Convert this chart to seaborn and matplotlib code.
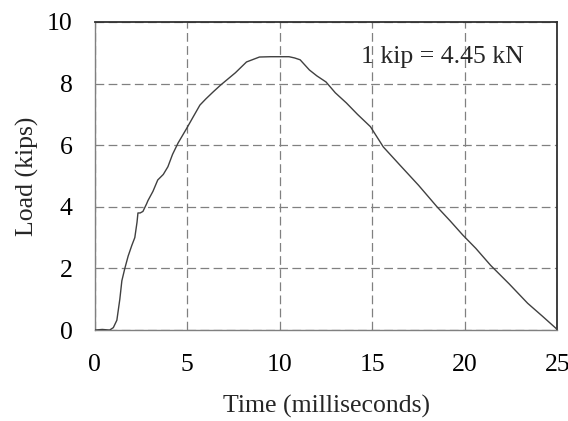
import matplotlib
matplotlib.use("Agg")
import matplotlib.pyplot as plt
import seaborn as sns
import pandas as pd
from matplotlib.ticker import MultipleLocator

time_ms = [0.0, 0.4, 0.8, 1.0, 1.19, 1.35, 1.46, 1.62, 1.8, 2.0, 2.16, 2.28, 2.33, 2.45, 2.6, 2.8,
           2.87, 3.14, 3.4, 3.7, 3.95, 4.2, 4.5, 4.98, 5.3, 5.68, 6.0, 6.4, 6.8, 7.14, 7.6,
           8.2, 8.9, 9.5, 10.0, 10.5, 10.8, 11.1, 11.6, 12.0, 12.5, 13.0, 13.6, 14.2,
           14.9, 15.6, 16.5, 17.5, 18.5, 19.2, 19.9, 20.6, 21.4, 22.4, 23.4, 24.2, 25.0]
load_kips = [0.0, 0.02, 0.0, 0.08, 0.32, 1.0, 1.6, 2.0, 2.4, 2.75, 3.0, 3.5, 3.8, 3.8, 3.85, 4.1,
             4.2, 4.5, 4.87, 5.05, 5.3, 5.7, 6.07, 6.56, 6.9, 7.3, 7.5, 7.73, 7.95, 8.12, 8.35,
             8.7, 8.86, 8.87, 8.87, 8.87, 8.83, 8.77, 8.44, 8.25, 8.05, 7.7, 7.37, 7.0,
             6.6, 5.94, 5.35, 4.7, 4.0, 3.55, 3.08, 2.65, 2.1, 1.5, 0.87, 0.45, 0.02]

df = pd.DataFrame({"Time (milliseconds)": time_ms, "Load (kips)": load_kips})

sns.set_style("white")
plt.rcParams['font.family'] = ['Liberation Serif', 'DejaVu Serif']

fig = plt.figure(figsize=(5.68, 4.21), dpi=100)
ax = fig.add_axes([0.167, 0.216, 0.814, 0.732])

sns.lineplot(data=df, x="Time (milliseconds)", y="Load (kips)", ax=ax,
             color="#404040", linewidth=1.0, zorder=3)

ax.set_xlim(0, 25)
ax.set_ylim(0, 10)
ax.xaxis.set_major_locator(MultipleLocator(5))
ax.yaxis.set_major_locator(MultipleLocator(2))
ax.xaxis.set_minor_locator(MultipleLocator(2.5))
ax.yaxis.set_minor_locator(MultipleLocator(1))

ax.grid(True, which="major", color="#808080", linestyle=(0, (7, 3.5)), linewidth=0.9)
ax.set_axisbelow(True)

ax.tick_params(axis="x", which="major", length=0, pad=17, labelsize=18.5, colors="black")
ax.tick_params(axis="y", which="major", length=0, pad=16, labelsize=18.5, colors="black")
ax.tick_params(which="minor", direction="in", length=5, width=0.9, color="#808080")

for side in ["left", "bottom"]:
    ax.spines[side].set_color("#808080")
    ax.spines[side].set_linewidth(1.0)
for side in ["top", "right"]:
    ax.spines[side].set_color("#303030")
    ax.spines[side].set_linewidth(1.3)

ax.set_xlabel("Time (milliseconds)", fontsize=18.5, labelpad=14)
ax.set_ylabel("Load (kips)", fontsize=18.5, labelpad=6)

ax.text(23.2, 8.86, "1 kip = 4.45 kN", fontsize=18.5, ha="right", va="center")

fig.savefig("out.png", dpi=100)
